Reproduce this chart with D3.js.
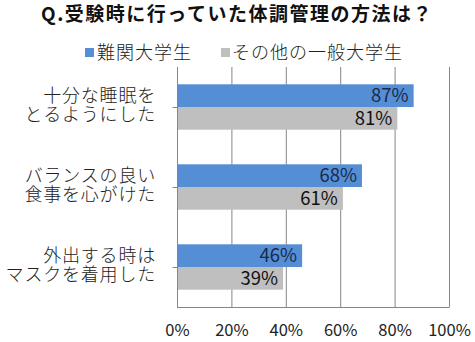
<!DOCTYPE html>
<html><head><meta charset="utf-8">
<script src="https://cdn.jsdelivr.net/npm/d3@7"></script>
<style>
body{margin:0;background:#fff;}
svg{display:block;}
text{font-family:"Noto Sans CJK JP","Noto Sans",sans-serif;}
</style></head>
<body><svg id="c" width="475" height="342"></svg>
<script>
const title = "Q.受験時に行っていた体調管理の方法は？";
const categories = [["十分な睡眠を","とるようにした"],["バランスの良い","食事を心がけた"],["外出する時は","マスクを着用した"]];
const seriesNames = ["難関大学生","その他の一般大学生"];
const eliteValues = [87, 68, 46];
const generalValues = [81, 61, 39];
const ticks = [0,20,40,60,80,100];
const colors = ["#558ED5","#BFBFBF"];
const labelColors = ["#1a2a4a","#111"];

const svg = d3.select("#c");
const x = d3.scaleLinear().domain([0,100]).range([177,449]);
const y = d3.scaleBand().domain(d3.range(categories.length)).range([67,307]).paddingInner(0).paddingOuter(0);
const inner = d3.scaleBand().domain([0,1]).range([0, 45.4]);

// title
svg.append("text").attr("x",237).attr("y",21).attr("text-anchor","middle")
  .attr("font-size",19).attr("font-weight","bold").attr("fill","#111")
  .attr("letter-spacing",1.5).text(title);

// legend
const lg = [{x:85, tx:97},{x:221, tx:232}];
seriesNames.forEach((n,i)=>{
  svg.append("rect").attr("x",lg[i].x).attr("y",48).attr("width",9).attr("height",9).attr("fill",colors[i]);
  svg.append("text").attr("x",lg[i].tx).attr("y",59).attr("font-size",18).attr("fill","#222")
    .attr("letter-spacing",1).attr("font-weight",300).text(n);
});

// gridlines
svg.append("g").selectAll("line").data(ticks.slice(1)).join("line")
  .attr("x1",d=>x(d)+0.5).attr("x2",d=>x(d)+0.5).attr("y1",67).attr("y2",307)
  .attr("stroke","#868686").attr("stroke-width",1);

// bars
const data = categories.map((c,i)=>({i, vals:[eliteValues[i], generalValues[i]]}));
data.forEach(d=>{
  const top = y(d.i) + (y.bandwidth()-45.4)/2;
  d.vals.forEach((v,s)=>{
    svg.append("rect").attr("x",x(0)).attr("y",top+inner(s)).attr("width",x(v)-x(0)).attr("height",inner.bandwidth())
      .attr("fill",colors[s]);
    svg.append("text").attr("x",x(v)-5).attr("y",top+inner(s)+inner.bandwidth()/2+6.5)
      .attr("text-anchor","end").attr("font-size",18.5).attr("fill",labelColors[s])
      .attr("font-family","Open Sans, sans-serif").text(v+"%");
  });
});

// y axis
const yAxis = svg.append("g").attr("transform",`translate(${x(0)+0.5},0)`)
  .call(d3.axisLeft(d3.scalePoint().domain(d3.range(categories.length)).range([107,267])).tickSize(5).tickFormat(""));
yAxis.select(".domain").attr("stroke","#868686").attr("d","M0,67V307");
yAxis.selectAll(".tick line").attr("stroke","#868686");

// x axis
const xAxis = svg.append("g").attr("transform","translate(0,307.5)")
  .call(d3.axisBottom(x).tickValues(ticks).tickSize(0).tickPadding(17).tickFormat(d=>d+"%"));
xAxis.select(".domain").attr("stroke","#868686").attr("d",`M${x(0)},0H${x(100)+0.5}`);
xAxis.selectAll("text").attr("font-size",16.5).attr("fill","#222").attr("font-family","Open Sans, sans-serif");

// category labels
categories.forEach((lines,i)=>{
  const cy = y(i)+y.bandwidth()/2;
  lines.forEach((l,k)=>{
    svg.append("text").attr("text-anchor","end").attr("font-size",18).attr("fill","#222")
      .attr("font-weight",300).attr("letter-spacing",0.8)
      .attr("x",156).attr("y",cy-5+k*19).text(l);
  });
});
</script></body></html>
